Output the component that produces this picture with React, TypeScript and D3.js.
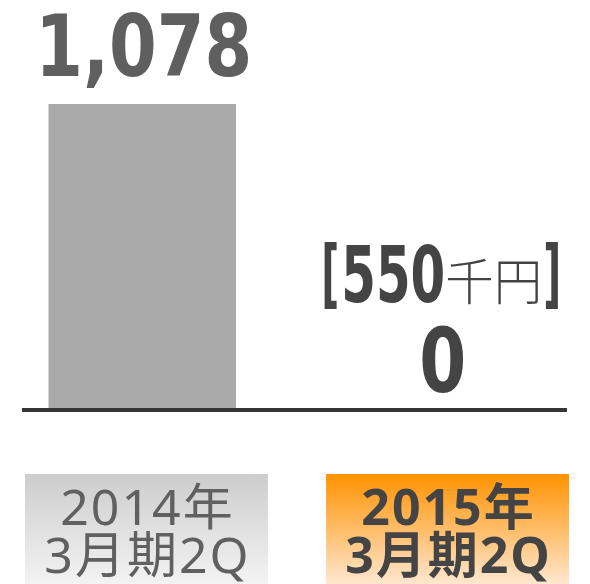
import React from "react";
import * as d3 from "d3";

const categories = ["2014年3月期2Q", "2015年3月期2Q"];
const labelLine1 = ["2014年", "2015年"];
const labelLine2 = ["3月期2Q", "3月期2Q"];
const values = [1078, 0];
const valueLabels = ["1,078", "0"];
const noteNumber = "550";
const noteUnit = "千円";

const W = 590;
const H = 584;
const baseY = 408;
const topY = 104;

const numFont = "'DejaVu Sans Condensed', 'DejaVu Sans', sans-serif";
const jpFont = "'Noto Sans CJK JP', 'Noto Sans', sans-serif";
const boxFont = "'Noto Sans', 'Noto Sans CJK JP', sans-serif";

export default function App() {
  const x = d3.scaleBand<string>().domain(categories).range([48.5, 536]).paddingInner(0.375).paddingOuter(0);
  const y = d3.scaleLinear().domain([0, d3.max(values) as number]).range([baseY, topY]);
  const xBox = d3.scaleBand<string>().domain(categories).range([25, 569]).paddingInner(0.193).paddingOuter(0);

  const c0 = (x(categories[0]) as number) + x.bandwidth() / 2;
  const c1 = (x(categories[1]) as number) + x.bandwidth() / 2;

  return (
    <svg width={W} height={H} style={{ position: "absolute", left: 0, top: 0 }}>
      <defs>
        <linearGradient id="gGray" x1="0" y1="0" x2="0" y2="1">
          <stop offset="0" stopColor="#cdcdcd" />
          <stop offset="1" stopColor="#f3f3f3" />
        </linearGradient>
        <linearGradient id="gOrange" x1="0" y1="0" x2="0" y2="1">
          <stop offset="0" stopColor="#ff9200" />
          <stop offset="1" stopColor="#ffe7cf" />
        </linearGradient>
      </defs>
      <rect x={0} y={0} width={W} height={H} fill="#ffffff" />
      {values.map((v, i) => (
        <rect
          key={categories[i]}
          x={x(categories[i]) as number}
          y={y(v)}
          width={x.bandwidth()}
          height={baseY - y(v)}
          fill="#aaaaaa"
        />
      ))}
      <rect x={22} y={408} width={545} height={4} fill="#353535" />

      {/* value label bar 1 */}
      <text
        x={c0 - 107}
        y={y(values[0]) - 28}
        fontFamily={numFont}
        fontWeight="bold"
        fontSize={86}
        fill="#5f5f5f"
        textLength={217}
        lengthAdjust="spacingAndGlyphs"
      >
        {valueLabels[0]}
      </text>

      {/* note bracket */}
      <text x={c1 - 121} y={299} fontFamily={numFont} fontWeight="bold" fontSize={74} fill="#444444" textLength={18} lengthAdjust="spacingAndGlyphs">[</text>
      <text x={c1 - 101} y={302} fontFamily={numFont} fontWeight="bold" fontSize={78} fill="#444444" textLength={104} lengthAdjust="spacingAndGlyphs">{noteNumber}</text>
      <text x={c1 + 3} y={300} fontFamily={jpFont} fontWeight={300} fontSize={50} fill="#444444" textLength={97} lengthAdjust="spacingAndGlyphs">{noteUnit}</text>
      <text x={c1 + 101} y={299} fontFamily={numFont} fontWeight="bold" fontSize={74} fill="#444444" textLength={18} lengthAdjust="spacingAndGlyphs">]</text>

      {/* value label bar 2 */}
      <text
        x={c1 - 23}
        y={y(values[1]) - 16}
        fontFamily={numFont}
        fontWeight="bold"
        fontSize={89}
        fill="#444444"
        textLength={47}
        lengthAdjust="spacingAndGlyphs"
      >
        {valueLabels[1]}
      </text>

      {/* category boxes */}
      {categories.map((c, i) => {
        const bx = xBox(c) as number;
        const cx = bx + xBox.bandwidth() / 2;
        const highlighted = i === 1;
        const ls = 2;
        return (
          <g key={c}>
            <rect x={bx} y={474} width={xBox.bandwidth()} height={110} fill={highlighted ? "url(#gOrange)" : "url(#gGray)"} />
            <text
              x={cx + ls / 2}
              y={525}
              textAnchor="middle"
              fontFamily={boxFont}
              fontWeight={highlighted ? "bold" : "normal"}
              fontSize={50}
              letterSpacing={ls}
              fill={highlighted ? "#444444" : "#606060"}
            >
              {labelLine1[i]}
            </text>
            <text
              x={cx + ls / 2}
              y={573}
              textAnchor="middle"
              fontFamily={boxFont}
              fontWeight={highlighted ? "bold" : "normal"}
              fontSize={50}
              letterSpacing={ls}
              fill={highlighted ? "#444444" : "#606060"}
            >
              {labelLine2[i]}
            </text>
          </g>
        );
      })}
    </svg>
  );
}
